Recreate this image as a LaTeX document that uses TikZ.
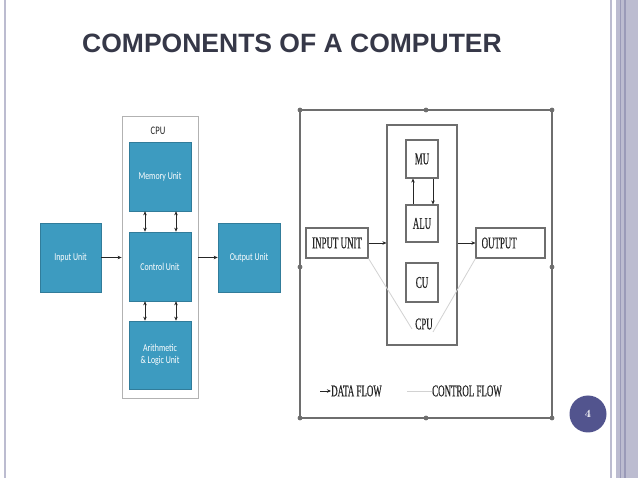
\documentclass[tikz,border=0pt]{standalone}
\usepackage{fontspec}
\newfontfamily\titlefont{Liberation Sans}
\newfontfamily\calibfont[FakeStretch=0.75]{Carlito}
\newfontfamily\narrowserif[FakeStretch=0.54,FakeBold=0.4]{Liberation Serif}
\usetikzlibrary{arrows.meta}
\definecolor{unitblue}{HTML}{3D9BC0}
\definecolor{titlegray}{HTML}{363848}
\definecolor{slidebar}{HTML}{BCBCD0}
\definecolor{barline}{HTML}{9A9AB8}
\definecolor{pagedot}{HTML}{52548E}
\definecolor{framegray}{HTML}{6E6E6E}
\definecolor{ctrlgray}{HTML}{D2D2D2}
\begin{document}
\begin{tikzpicture}[x=1pt,y=-1pt,
			bluebox/.style={draw=unitblue!80!black,fill=unitblue,line width=0.6pt,text=white,font=\calibfont\fontsize{10.5}{12}\selectfont,inner sep=0pt,align=center},
			graybox/.style={draw=framegray,line width=1.1pt,inner sep=0pt,font=\narrowserif\fontsize{16.5}{17}\selectfont,text=black!85},
			serifnote/.style={inner sep=0pt,font=\narrowserif\fontsize{16.5}{17}\selectfont,text=black!85},
			flow/.style={-{Stealth[length=4pt,width=3.5pt]},line width=0.8pt,black!85},
			dflow/.style={{Stealth[length=4pt,width=3.5pt]}-{Stealth[length=4pt,width=3.5pt]},line width=0.8pt,black!85}]
			\useasboundingbox (0,0) rectangle (638,478);
			\fill[white] (0,0) rectangle (638,478);
			\draw[slidebar,line width=1.6pt] (5,0) -- (5,478);
			\draw[slidebar,line width=1.2pt] (611,0) -- (611,478);
			\fill[slidebar] (616,0) rectangle (638,478);
			\draw[barline,line width=1.2pt] (620.8,0) -- (620.8,478);
			\draw[barline,line width=1.2pt] (625,0) -- (625,478);
			\node[circle,fill=pagedot,minimum size=37pt,inner sep=0pt,text=white,font=\bfseries\fontsize{11}{12}\selectfont] (page) at (588,414) {4};
			\node[anchor=base west,inner sep=0pt,text=titlegray,font=\titlefont\bfseries\fontsize{26.5}{30}\selectfont] (title) at (82,53) {COMPONENTS OF A COMPUTER};
			\node[draw=black!30,line width=0.8pt,minimum width=76pt,minimum height=282pt,inner sep=0pt] (cpuL) at (160,257) {};
			\node[font=\calibfont\fontsize{11.5}{12}\selectfont,text=black!85] (cpuLtxt) at (158,131) {CPU};
			\node[bluebox,minimum width=62pt,minimum height=69pt] (memL) at (160,176.5) {Memory Unit};
			\node[bluebox,minimum width=62pt,minimum height=69pt] (ctrlL) at (160,266.5) {Control Unit};
			\node[bluebox,minimum width=62pt,minimum height=68pt] (aluL) at (160,355) {Arithmetic\\\& Logic Unit};
			\node[bluebox,minimum width=61pt,minimum height=69pt] (inL) at (70.5,257.5) {Input Unit};
			\node[bluebox,minimum width=62pt,minimum height=69pt] (outL) at (249,257.5) {Output Unit};
			\draw[flow] (inL.east) -- (inL.east -| cpuL.west);
			\draw[flow] (outL.west -| cpuL.east) -- (outL.west);
			\draw[dflow] ([xshift=-15pt]memL.south) -- ([xshift=-15pt]ctrlL.north);
			\draw[dflow] ([xshift=16pt]memL.south) -- ([xshift=16pt]ctrlL.north);
			\draw[dflow] ([xshift=-15pt]ctrlL.south) -- ([xshift=-15pt]aluL.north);
			\draw[dflow] ([xshift=16pt]ctrlL.south) -- ([xshift=16pt]aluL.north);
			\draw[framegray,line width=1.1pt] (300,110) rectangle (552,418);
			\foreach \p in {(300,110),(426,110),(552,110),(300,267),(552,267),(300,418),(426,418),(552,418)}
				\fill[framegray] \p circle (2.4pt);
			\node[graybox,minimum width=70pt,minimum height=220pt] (cpuR) at (422,235) {};
			\node[graybox,minimum width=32pt,minimum height=38pt] (mu) at (422,159) {MU};
			\node[graybox,minimum width=32pt,minimum height=37pt] (alu) at (422,223.5) {ALU};
			\node[graybox,minimum width=32pt,minimum height=39pt] (cu) at (422,282.5) {CU};
			\node[serifnote] (cpuRtxt) at (424,324) {CPU};
			\node[graybox,minimum width=62pt,minimum height=30pt] (inR) at (337,243) {INPUT UNIT};
			\node[graybox,minimum width=69pt,minimum height=30pt] (outR) at (510.5,243) {};
			\node[serifnote,anchor=west] (outRtxt) at ([xshift=6pt]outR.west) {OUTPUT};
			\draw[flow] (inR.east) -- (inR.east -| cpuR.west);
			\draw[flow] (outR.west -| cpuR.east) -- (outR.west);
			\draw[flow] ([xshift=-9pt]alu.north) -- ([xshift=-9pt]mu.south);
			\draw[flow] ([xshift=11pt]mu.south) -- ([xshift=11pt]alu.north);
			\coordinate (vL) at (412,329);
			\coordinate (vR) at (433,332);
			\draw[ctrlgray,line width=0.8pt] (inR.south east) -- (vL);
			\draw[ctrlgray,line width=0.8pt] (outR.south west) -- (vR);
			\coordinate (dA) at (320,391);
			\node[serifnote,anchor=west] (dataflow) at (331,391) {DATA FLOW};
			\draw[flow] (dA) -- (dataflow.west);
			\coordinate (cA) at (407,391);
			\node[serifnote,anchor=west] (ctrlflow) at (432,391) {CONTROL FLOW};
			\draw[ctrlgray,line width=0.8pt] (cA) -- (ctrlflow.west);
\end{tikzpicture}
\end{document}
